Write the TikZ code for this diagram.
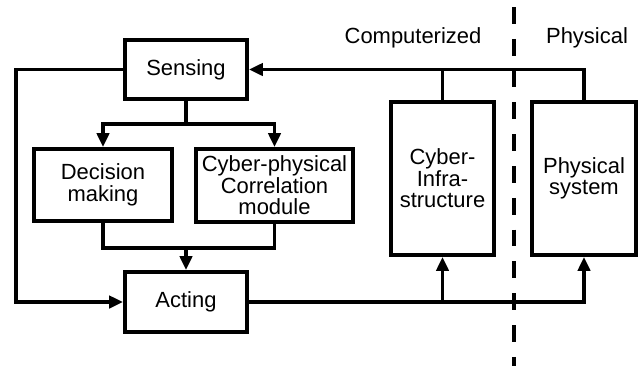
\documentclass[tikz,border=0pt]{standalone}
\usepackage{fontspec}
\setmainfont{Liberation Sans}
\usetikzlibrary{positioning,arrows.meta}

\begin{document}
\begin{tikzpicture}[x=0.02cm,y=-0.02cm,line width=2.2pt,
    blk/.style={draw,align=center,inner sep=0pt,font=\fontsize{12.5}{12.3}\selectfont},
    arr/.style={-{Triangle[length=8pt,width=7pt]}},
    lbl/.style={font=\fontsize{12.5}{12.3}\selectfont}]
  \useasboundingbox (0,0) rectangle (642,366);
  \node[blk,minimum width=2.44cm,minimum height=1.18cm] (sense) at (186,69.5) {Sensing};
  \node[blk,minimum width=2.76cm,minimum height=1.44cm] (dec) at (103,185) {Decision\\making};
  \node[blk,minimum width=3.14cm,minimum height=1.46cm] (corr) at (274.5,185.5) {Cyber-physical\\Correlation\\module};
  \node[blk,minimum width=2.44cm,minimum height=1.2cm] (act) at (186,302) {Acting};
  \node[blk,minimum width=2.06cm,minimum height=3.06cm] (cyber) at (442.5,178.5) {Cyber-\\Infra-\\structure};
  \node[blk,minimum width=2.08cm,minimum height=3.06cm] (phys) at (584,178.5) {Physical\\system};
  \node[lbl] (comp) at (413,38) {Computerized};
  \node[lbl] (physlbl) at (587,38) {Physical};
  \coordinate (lft) at (16,69.5);
  \coordinate (spl) at (186,124);
  \coordinate (mrg) at (186,248);
  \draw[arr] (sense.west) -- (lft) |- (act.west);
  \draw[arr] (sense.south) -- (spl) -| (dec.north);
  \draw[arr] (spl) -| (corr.north);
  \draw (dec.south) |- (mrg) -| (corr.south);
  \draw[arr] (mrg) -- (act.north);
  \draw[arr] (phys.north) |- (sense.east);
  \draw (cyber.north) -- (cyber.north |- sense.east);
  \draw[arr] (act.east) -| (cyber.south);
  \draw[arr] (act.east) -| (phys.south);
  \draw[dash pattern=on 9.6pt off 8.5pt] (514,7) -- (514,366);
\end{tikzpicture}
\end{document}
